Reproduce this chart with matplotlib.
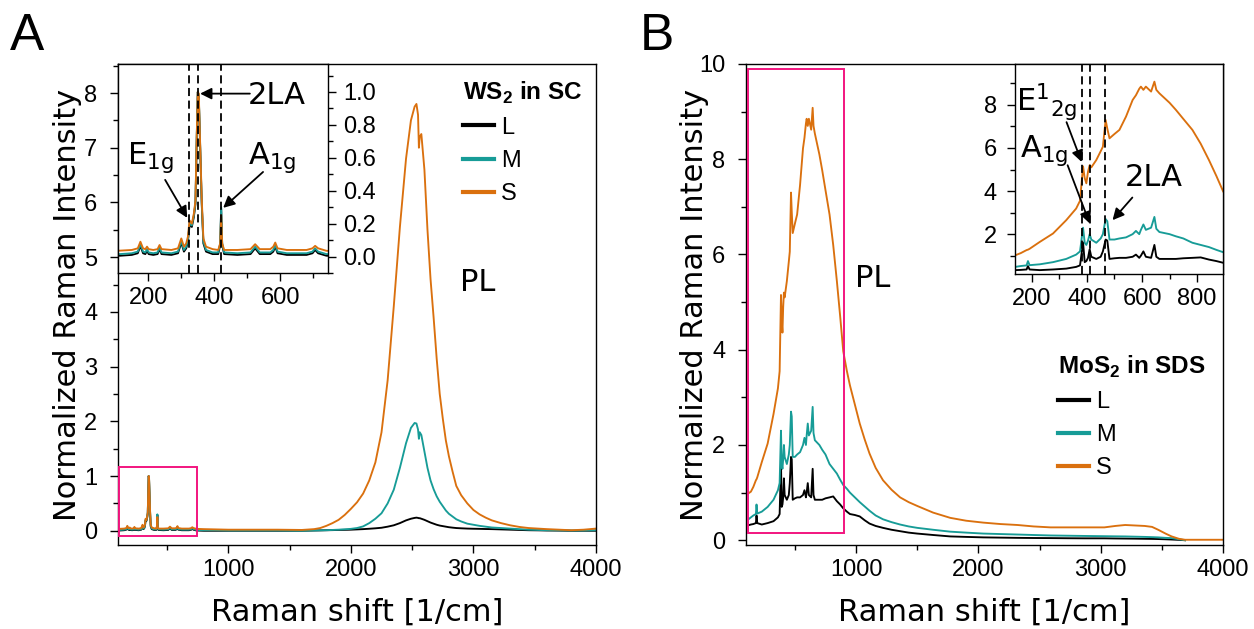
import numpy as np
import matplotlib
matplotlib.use("Agg")
import matplotlib.pyplot as plt
from matplotlib.ticker import MultipleLocator, FormatStrFormatter
from matplotlib.patches import Rectangle

# ---------------- Panel A : WS2 in SC ----------------
ws2_x_raman = [100, 115, 150, 168, 176, 184, 191, 196, 201, 215, 228, 234, 240, 270, 290, 300,
               308, 315, 320, 325, 332, 338, 343, 347, 350, 353, 357, 362, 367, 375, 395, 412,
               418, 421, 424, 430, 470, 510, 524, 538, 570, 579, 585, 592, 620, 680, 698, 706,
               715, 740, 800, 900, 1000, 1200, 1400, 1600]
ws2_S_raman = [0.035, 0.036, 0.04, 0.05, 0.09, 0.05, 0.045, 0.06, 0.045, 0.04, 0.045, 0.07, 0.045,
               0.04, 0.05, 0.11, 0.06, 0.08, 0.12, 0.22, 0.20, 0.26, 0.34, 0.75, 1.0, 0.99, 0.70,
               0.35, 0.11, 0.06, 0.045, 0.04, 0.08, 0.25, 0.08, 0.04, 0.04, 0.045, 0.075, 0.045,
               0.045, 0.06, 0.085, 0.05, 0.04, 0.04, 0.05, 0.065, 0.05, 0.035, 0.03, 0.025, 0.02,
               0.02, 0.02, 0.015]
ws2_M_raman = [0.015, 0.015, 0.02, 0.03, 0.075, 0.03, 0.025, 0.045, 0.025, 0.02, 0.025, 0.055, 0.025,
               0.02, 0.03, 0.095, 0.04, 0.06, 0.10, 0.20, 0.19, 0.25, 0.33, 0.74, 1.0, 0.98, 0.69,
               0.33, 0.09, 0.04, 0.025, 0.025, 0.08, 0.30, 0.08, 0.025, 0.02, 0.025, 0.06, 0.025,
               0.025, 0.04, 0.07, 0.03, 0.02, 0.02, 0.03, 0.05, 0.03, 0.015, 0.01, 0.01, 0.005,
               0.005, 0.005, 0.0]
ws2_L_raman = [0.005, 0.005, 0.01, 0.02, 0.065, 0.02, 0.015, 0.035, 0.015, 0.01, 0.015, 0.045, 0.015,
               0.01, 0.02, 0.085, 0.03, 0.05, 0.09, 0.19, 0.18, 0.24, 0.32, 0.73, 1.0, 0.97, 0.68,
               0.32, 0.08, 0.03, 0.015, 0.015, 0.07, 0.29, 0.07, 0.015, 0.01, 0.015, 0.05, 0.015,
               0.015, 0.03, 0.06, 0.02, 0.01, 0.01, 0.02, 0.04, 0.02, 0.005, 0.0, 0.0, 0.0,
               0.0, 0.0, 0.0]
ws2_x_pl = [1700, 1750, 1800, 1850, 1900, 1950, 2000, 2050, 2100, 2150, 2200, 2250, 2300, 2350,
            2400, 2450, 2490, 2520, 2535, 2548, 2555, 2562, 2575, 2600, 2625, 2650, 2675, 2700,
            2725, 2750, 2775, 2800, 2830, 2860, 2900, 2950, 3000, 3050, 3100, 3150, 3225, 3300,
            3375, 3450, 3525, 3600, 3700, 3800, 3900, 4000]
ws2_S_pl = [0.03, 0.05, 0.09, 0.14, 0.2, 0.29, 0.4, 0.52, 0.68, 0.92, 1.25, 1.8, 2.75, 4.1,
            5.55, 6.8, 7.5, 7.75, 7.8, 7.6, 7.0, 7.2, 7.25, 6.6, 5.5, 4.6, 3.9, 3.15,
            2.5, 2.05, 1.65, 1.36, 1.08, 0.82, 0.65, 0.5, 0.38, 0.3, 0.24, 0.19, 0.14, 0.1,
            0.07, 0.05, 0.04, 0.03, 0.02, 0.01, 0.02, 0.04]
ws2_M_pl = [0.005, 0.008, 0.01, 0.015, 0.02, 0.027, 0.035, 0.05, 0.08, 0.14, 0.22, 0.32, 0.5, 0.75,
            1.15, 1.6, 1.88, 1.97, 1.96, 1.85, 1.68, 1.8, 1.75, 1.45, 1.15, 0.92, 0.76, 0.63,
            0.53, 0.45, 0.37, 0.31, 0.26, 0.21, 0.17, 0.13, 0.11, 0.09, 0.075, 0.06, 0.05, 0.04,
            0.03, 0.02, 0.015, 0.01, 0.008, 0.005, 0.005, 0.01]
ws2_L_pl = [0.005, 0.007, 0.01, 0.012, 0.015, 0.017, 0.02, 0.025, 0.03, 0.037, 0.045, 0.055, 0.075, 0.1,
            0.14, 0.19, 0.22, 0.235, 0.24, 0.235, 0.23, 0.23, 0.22, 0.2, 0.175, 0.15, 0.13, 0.11,
            0.095, 0.085, 0.075, 0.065, 0.057, 0.05, 0.045, 0.04, 0.037, 0.035, 0.032, 0.03, 0.025, 0.02,
            0.015, 0.01, 0.008, 0.005, 0.003, 0.0, 0.0, 0.0]
ws2_modes = [324, 351, 421]   # dashed guide lines (E1g, 2LA, A1g)

# ---------------- Panel B : MoS2 in SDS ----------------
mos2_x = [100, 140, 160, 181, 186, 192, 229, 277, 325, 361, 375, 386, 392, 398, 404, 410, 416,
          434, 450, 458, 468, 474, 482, 500, 518, 542, 566, 578, 590, 596, 605, 614, 633, 645,
          652, 663, 700, 723, 750, 783, 813, 843, 870,
          895, 925, 950, 990, 1030, 1070, 1110, 1160, 1220, 1290,
          1360, 1430, 1500, 1630, 1770, 1900, 2040, 2180, 2320, 2450,
          2590, 2730, 2870, 3030, 3120, 3200, 3280, 3360, 3420, 3470,
          3530, 3580, 3640, 3690, 3800, 4000]
mos2_S = [0.95, 1.02, 1.12, 1.26, 1.28, 1.32, 1.64, 2.03, 2.65, 3.19, 3.55, 5.15, 4.6, 4.36, 4.9,
          5.2, 5.1, 5.44, 5.85, 6.06, 7.3, 6.9, 6.45, 6.65, 6.84, 7.46, 8.23, 8.45, 8.75, 8.85,
          8.7, 8.85, 8.62, 9.08, 8.7, 8.54, 8.1, 7.77, 7.35, 6.84, 6.2, 5.44, 4.7,
          3.97, 3.55, 3.25, 2.85, 2.45, 2.12, 1.82, 1.52, 1.26, 1.06,
          0.9, 0.8, 0.72, 0.58, 0.47, 0.41, 0.37, 0.34, 0.32, 0.29,
          0.27, 0.27, 0.27, 0.27, 0.3, 0.32, 0.31, 0.30, 0.28, 0.22,
          0.14, 0.08, 0.03, 0.01, 0.01, 0.01]
mos2_M = [0.40, 0.48, 0.52, 0.55, 0.75, 0.56, 0.60, 0.70, 0.85, 1.05, 1.2, 2.3, 1.6, 1.5, 1.7,
          2.0, 1.75, 1.6, 1.8, 2.0, 2.7, 2.6, 1.75, 1.75, 1.8, 1.85, 2.0, 2.15, 2.0, 2.2,
          2.45, 2.2, 2.3, 2.8, 2.25, 2.1, 2.0, 1.9, 1.8, 1.6, 1.5, 1.4, 1.27,
          1.16, 1.08, 1.0, 0.9, 0.8, 0.71, 0.62, 0.52, 0.44, 0.38,
          0.33, 0.29, 0.26, 0.22, 0.18, 0.16, 0.14, 0.13, 0.12, 0.11,
          0.10, 0.095, 0.09, 0.085, 0.082, 0.08, 0.075, 0.07, 0.065, 0.06,
          0.05, 0.045, 0.02, 0.0, np.nan, np.nan]
mos2_L = [0.30, 0.33, 0.34, 0.36, 0.52, 0.36, 0.33, 0.36, 0.40, 0.48, 0.55, 1.62, 0.7, 0.75, 0.9,
          1.3, 0.95, 0.85, 0.95, 1.2, 1.75, 1.7, 0.85, 0.88, 0.9, 0.9, 0.95, 1.05, 0.9, 1.0,
          1.2, 0.95, 0.9, 1.5, 0.95, 0.85, 0.85, 0.85, 0.88, 0.9, 0.92, 0.82, 0.75,
          0.67, 0.6, 0.55, 0.53, 0.5, 0.42, 0.35, 0.3, 0.26, 0.22,
          0.19, 0.16, 0.14, 0.11, 0.08, 0.07, 0.06, 0.055, 0.05, 0.047,
          0.045, 0.042, 0.04, 0.04, 0.037, 0.035, 0.033, 0.03, 0.028, 0.025,
          0.02, 0.015, 0.008, 0.0, np.nan, np.nan]
mos2_modes = [384, 410, 466]   # dashed guide lines (E1_2g, A1g, 2LA)

series_labels = ["L", "M", "S"]
colors = {"L": "#000000", "M": "#179C97", "S": "#DA700E"}
PINK = "#F2157F"

TICKFONT = "Liberation Sans"
LABFONT = "DejaVu Sans"
plt.rcParams["font.family"] = [TICKFONT, "DejaVu Sans"]
plt.rcParams["mathtext.fontset"] = "dejavusans"

W, H = 1254, 629
fig = plt.figure(figsize=(W / 100, H / 100), dpi=100)


def fr(l, t, r, b):
    return [l / W, (H - b) / H, (r - l) / W, (b - t) / H]


axA = fig.add_axes(fr(118, 64, 596, 545))
axB = fig.add_axes(fr(746, 64, 1223, 545))
insA = fig.add_axes(fr(118, 64, 328, 273))
insB = fig.add_axes(fr(1015, 64, 1223, 274))

LW = 1.35
TS = 17
LS = 22


def style(ax, ypad=9):
    for s in ax.spines.values():
        s.set_linewidth(1.0)
    ax.tick_params(which="both", direction="out", width=1.0, labelsize=TS)
    ax.tick_params(axis="x", which="both", pad=4)
    ax.tick_params(axis="y", which="both", pad=ypad)
    ax.tick_params(which="major", length=6)
    ax.tick_params(which="minor", length=3.5)
    for lab in ax.get_xticklabels() + ax.get_yticklabels():
        lab.set_fontfamily(TICKFONT)


wsA = {"L": (ws2_L_raman, ws2_L_pl), "M": (ws2_M_raman, ws2_M_pl), "S": (ws2_S_raman, ws2_S_pl)}
xA = np.array(ws2_x_raman + ws2_x_pl, dtype=float)

# ----- Panel A main -----
linesA = []
for k in series_labels:
    y = np.array(wsA[k][0] + wsA[k][1], dtype=float)
    ln, = axA.plot(xA, y, color=colors[k], lw=LW, label=k)
    linesA.append(ln)
axA.set_xlim(100, 4000)
axA.set_ylim(-0.26, 8.53)
axA.xaxis.set_major_locator(MultipleLocator(1000))
axA.xaxis.set_minor_locator(MultipleLocator(500))
axA.yaxis.set_major_locator(MultipleLocator(1))
axA.yaxis.set_minor_locator(MultipleLocator(0.5))
style(axA)
axA.set_xlabel("Raman shift [1/cm]", fontsize=LS, family=LABFONT, labelpad=12)
axA.set_ylabel("Normalized Raman Intensity", fontsize=LS, family=LABFONT)
axA.yaxis.set_label_coords(-0.0755, 0.5)
axA.text(3034, 4.53, "PL", fontsize=22, family=LABFONT, ha="center", va="center")

# ----- Panel A inset -----
insA_xlim = (108, 745)
insA_ylim = (-0.1, 1.17)
for k in series_labels:
    insA.plot(ws2_x_raman, wsA[k][0], color=colors[k], lw=LW)
insA.set_xlim(*insA_xlim)
insA.set_ylim(*insA_ylim)
for m in ws2_modes:
    insA.axvline(m, color="k", lw=1.3, ls=(0, (4.5, 2.5)))
insA.yaxis.tick_right()
insA.yaxis.set_major_locator(MultipleLocator(0.2))
insA.yaxis.set_minor_locator(MultipleLocator(0.1))
insA.yaxis.set_major_formatter(FormatStrFormatter("%.1f"))
insA.xaxis.set_major_locator(MultipleLocator(200))
insA.xaxis.set_minor_locator(MultipleLocator(100))
style(insA, ypad=5)
insA.tick_params(left=False, top=False)
axA.add_patch(Rectangle((insA_xlim[0], insA_ylim[0]), insA_xlim[1] - insA_xlim[0],
                        insA_ylim[1] - insA_ylim[0], fill=False, ec=PINK, lw=1.4, zorder=5))

arrow = dict(arrowstyle="-|>", color="k", lw=1.3, mutation_scale=17, shrinkA=0, shrinkB=0)
insA.annotate("", xy=(357, 0.99), xytext=(508, 0.99), arrowprops=arrow)
insA.text(591, 0.98, "2LA", fontsize=22, family=LABFONT, ha="center", va="center")
insA.annotate("", xy=(318, 0.235), xytext=(251, 0.466), arrowprops=arrow)
insA.text(206, 0.60, r"E$_\mathregular{1g}$", fontsize=22, family=LABFONT, ha="center", va="center")
insA.annotate("", xy=(427, 0.296), xytext=(548, 0.514), arrowprops=arrow)
insA.text(576, 0.60, r"A$_\mathregular{1g}$", fontsize=22, family=LABFONT, ha="center", va="center")

leg_kw = dict(loc="upper left", frameon=False, borderpad=0, borderaxespad=0,
              handlelength=1.3, handletextpad=0.3, labelspacing=0.47, alignment="left",
              prop={"family": TICKFONT, "size": 17},
              title_fontproperties={"family": TICKFONT, "size": 17.5, "weight": "bold"})
legA = axA.legend(handles=linesA, labels=series_labels, title=r"WS$_\mathregular{2}$ in SC",
                  bbox_to_anchor=(0.722, 0.968), **leg_kw)
for l in legA.get_lines():
    l.set_linewidth(3)

# ----- Panel B main -----
mosB = {"L": mos2_L, "M": mos2_M, "S": mos2_S}
linesB = []
for k in series_labels:
    ln, = axB.plot(mos2_x, mosB[k], color=colors[k], lw=LW, label=k)
    linesB.append(ln)
axB.set_xlim(100, 4000)
axB.set_ylim(-0.1, 10)
axB.xaxis.set_major_locator(MultipleLocator(1000))
axB.xaxis.set_minor_locator(MultipleLocator(500))
axB.yaxis.set_major_locator(MultipleLocator(2))
axB.yaxis.set_minor_locator(MultipleLocator(1))
style(axB)
axB.set_xlabel("Raman shift [1/cm]", fontsize=LS, family=LABFONT, labelpad=12)
axB.set_ylabel("Normalized Raman Intensity", fontsize=LS, family=LABFONT)
axB.yaxis.set_label_coords(-0.0775, 0.5)
axB.text(1134, 5.5, "PL", fontsize=22, family=LABFONT, ha="center", va="center")

insB_xlim = (139, 894)
insB_ylim = (0.15, 9.9)
for k in series_labels:
    insB.plot(mos2_x, mosB[k], color=colors[k], lw=LW)
insB.set_xlim(*insB_xlim)
insB.set_ylim(*insB_ylim)
for m in mos2_modes:
    insB.axvline(m, color="k", lw=1.3, ls=(0, (4.5, 2.5)))
insB.xaxis.set_major_locator(MultipleLocator(200))
insB.xaxis.set_minor_locator(MultipleLocator(100))
insB.yaxis.set_major_locator(MultipleLocator(2))
insB.yaxis.set_minor_locator(MultipleLocator(1))
style(insB, ypad=7)
axB.add_patch(Rectangle((115, insB_ylim[0]), 900 - 115, insB_ylim[1] - insB_ylim[0],
                        fill=False, ec=PINK, lw=1.4, zorder=5))

insB.annotate("", xy=(381, 5.35), xytext=(326, 7.2), arrowprops=arrow)
insB.text(254, 8.14, r"E$^\mathregular{1}$$_\mathregular{2g}$", fontsize=22, family=LABFONT,
          ha="center", va="center")
insB.annotate("", xy=(410, 2.5), xytext=(330, 5.2), arrowprops=arrow)
insB.text(243, 5.9, r"A$_\mathregular{1g}$", fontsize=22, family=LABFONT, ha="center", va="center")
insB.annotate("", xy=(493, 2.65), xytext=(565, 3.7), arrowprops=arrow)
insB.text(641, 4.65, "2LA", fontsize=22, family=LABFONT, ha="center", va="center")

legB = axB.legend(handles=linesB, labels=series_labels, title=r"MoS$_\mathregular{2}$ in SDS",
                  bbox_to_anchor=(0.654, 0.398), **leg_kw)
for l in legB.get_lines():
    l.set_linewidth(3)

fig.text(10 / W, 1 - 37 / H, "A", fontsize=37, family=TICKFONT, ha="left", va="center")
fig.text(640 / W, 1 - 36 / H, "B", fontsize=37, family=TICKFONT, ha="left", va="center")

fig.savefig("out.png", dpi=100)
